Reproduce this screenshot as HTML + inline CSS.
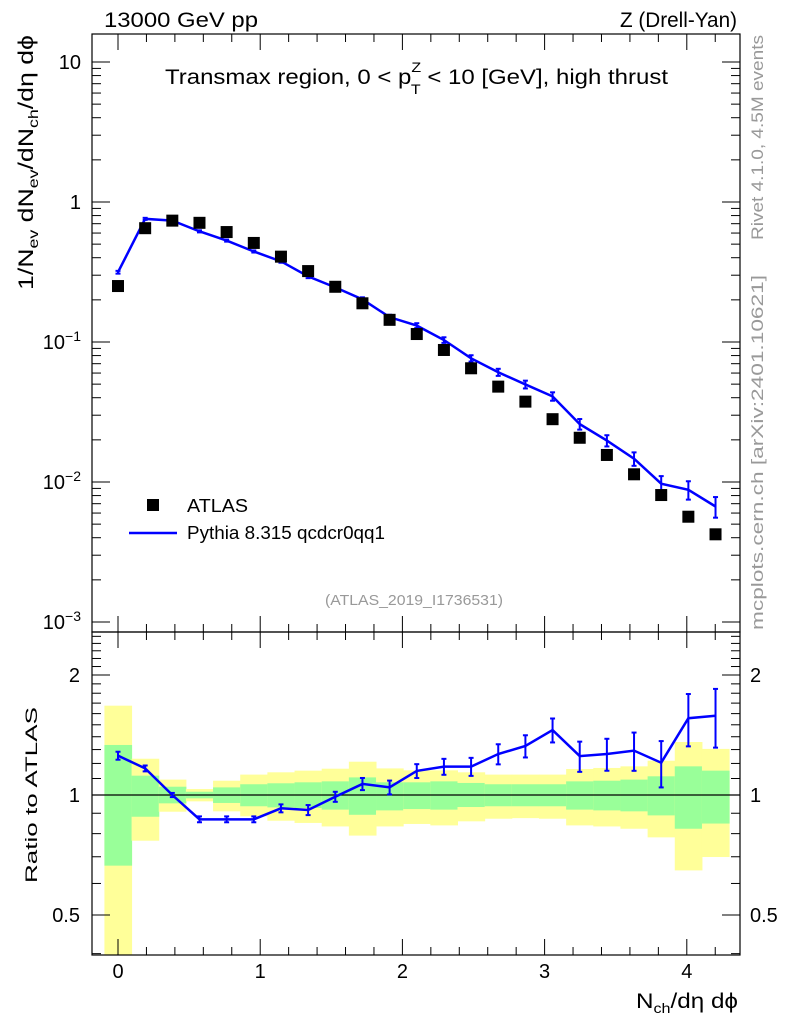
<!DOCTYPE html>
<html><head><meta charset="utf-8"><style>
body{margin:0;background:#fff}
svg{display:block;font-family:"Liberation Sans","DejaVu Sans",sans-serif}
</style></head><body>
<svg id="c" width="786" height="1024" xmlns="http://www.w3.org/2000/svg"></svg>
<script>
const xCenters=[0,0.191,0.382,0.573,0.764,0.955,1.146,1.337,1.528,1.719,1.91,2.101,2.292,2.483,2.674,2.865,3.056,3.247,3.438,3.629,3.82,4.011,4.202];
const binWidth=0.191;
const atlasVals=[0.251,0.65,0.736,0.71,0.61,0.51,0.407,0.321,0.248,0.189,0.144,0.114,0.0877,0.0649,0.048,0.0375,0.0281,0.0207,0.0156,0.01135,0.00807,0.00565,0.00423];
const mcRatio=[1.255,1.166,1.0,0.869,0.869,0.869,0.926,0.917,0.99,1.066,1.045,1.149,1.178,1.178,1.267,1.327,1.455,1.252,1.267,1.292,1.205,1.558,1.58];
const mcRelErr=[0.023,0.017,0.012,0.017,0.017,0.017,0.023,0.029,0.029,0.035,0.04,0.04,0.046,0.052,0.058,0.064,0.069,0.087,0.092,0.11,0.133,0.15,0.168];
const yellowHi=[1.675,1.233,1.093,1.035,1.086,1.125,1.14,1.151,1.164,1.212,1.166,1.153,1.153,1.14,1.125,1.125,1.125,1.162,1.169,1.18,1.219,1.358,1.305];
const greenHi=[1.335,1.118,1.049,1.019,1.045,1.064,1.07,1.076,1.082,1.107,1.076,1.076,1.082,1.072,1.064,1.064,1.064,1.082,1.086,1.093,1.114,1.18,1.151];
const greenLo=[0.665,0.882,0.953,0.981,0.955,0.937,0.931,0.928,0.919,0.892,0.915,0.922,0.919,0.933,0.937,0.937,0.937,0.919,0.915,0.91,0.889,0.823,0.848];
const yellowLo=[0.3,0.768,0.908,0.964,0.91,0.884,0.862,0.851,0.834,0.791,0.834,0.846,0.839,0.859,0.872,0.875,0.872,0.839,0.834,0.823,0.783,0.647,0.699];
const xTicks=[0,1,2,3,4];
const mainTicks=[10,1,0.1,0.01,0.001];
const ratioTicks=[0.5,1,2];

const NS="http://www.w3.org/2000/svg";
const svg=document.getElementById('c');
const L=92,R=740,T=34,MB=632,RB=955;
const X=v=>118+v*142.2;
const Ym=v=>202-Math.log10(v)*140;
const Yr=v=>795-Math.log10(v)*398.7;
function el(tag,attrs,parent){const e=document.createElementNS(NS,tag);for(const k in attrs)e.setAttribute(k,attrs[k]);(parent||svg).appendChild(e);return e;}
function txt(s,attrs){const e=el('text',attrs);e.textContent=s;return e;}

const defs=el('defs',{});
const cp=el('clipPath',{id:'rc'},defs);el('rect',{x:L,y:MB,width:R-L,height:RB-MB},cp);
const cpm=el('clipPath',{id:'mc'},defs);el('rect',{x:L,y:T,width:R-L,height:MB-T},cpm);

const bands=el('g',{'clip-path':'url(#rc)'});


xCenters.forEach((c,i)=>{
  const x0=X(c-binWidth/2),w=X(c+binWidth/2)-x0;
  const y=el('rect',{x:x0,y:Yr(yellowHi[i]),width:w+0.5,height:Yr(yellowLo[i])-Yr(yellowHi[i]),fill:'#ffff99'},bands);
  
  
  const g=el('rect',{x:x0,y:Yr(greenHi[i]),width:w+0.5,height:Yr(greenLo[i])-Yr(greenHi[i]),fill:'#99ff99'},bands);
  
  
});
el('line',{x1:L,x2:R,y1:Yr(1),y2:Yr(1),stroke:'#000','stroke-width':1.2});

el('rect',{x:L,y:T,width:R-L,height:MB-T,fill:'none',stroke:'#000','stroke-width':1.2});
el('rect',{x:L,y:MB,width:R-L,height:RB-MB,fill:'none',stroke:'#000','stroke-width':1.2});

const tk=el('g',{stroke:'#000','stroke-width':1});
for(let v=-0.2;v<=4.37;v+=0.2){
  const vv=Math.round(v*10)/10;const major=Math.abs(vv-Math.round(vv))<1e-6;
  const len=major?16:8;const x=X(vv);if(x<L||x>R)continue;
  [[T,1],[MB,-1],[MB,1],[RB,-1]].forEach(([y,d])=>el('line',{x1:x,x2:x,y1:y,y2:y+d*len},tk));
}
xTicks.forEach(v=>{const t=txt(String(v),{x:X(v),y:978,'font-size':20,'text-anchor':'middle'});

});

for(let d=-3;d<=1;d++){for(let m=1;m<=9;m++){const v=m*Math.pow(10,d);const y=Ym(v);if(y<T||y>MB)continue;const len=m==1?18:9;
el('line',{x1:L,x2:L+len,y1:y,y2:y},tk);el('line',{x1:R,x2:R-len,y1:y,y2:y},tk);}}
const mainLabels=['10','1','10<tspan dy="-8" font-size="14">−1</tspan>','10<tspan dy="-8" font-size="14">−2</tspan>','10<tspan dy="-8" font-size="14">−3</tspan>'];
mainTicks.forEach((v,i)=>{const t=el('text',{x:81,y:Ym(v)+7,'font-size':20,'text-anchor':'end'});t.innerHTML=mainLabels[i];

});
for(let k=3;k<=25;k++){const v=k/10;const y=Yr(v);if(y<MB||y>RB)continue;const major=(v===0.5||v===1||v===2);const len=major?18:9;
el('line',{x1:L,x2:L+len,y1:y,y2:y},tk);el('line',{x1:R,x2:R-len,y1:y,y2:y},tk);}
ratioTicks.forEach(v=>{const s=String(v);
const a=txt(s,{x:80,y:Yr(v)+7,'font-size':20,'text-anchor':'end'});
const b=txt(s,{x:750,y:Yr(v)+7,'font-size':20});});

const mg=el('g',{'clip-path':'url(#mc)'});
const mcVals=atlasVals.map((a,i)=>a*mcRatio[i]);
const mcLine=el('polyline',{points:xCenters.map((c,i)=>X(c)+','+Ym(mcVals[i])).join(' '),fill:'none',stroke:'#0000ff','stroke-width':2.5},mg);


xCenters.forEach((c,i)=>{const v=mcVals[i],e=v*mcRelErr[i];const x=X(c);
const y1=Ym(v+e),y2=Ym(v-e);
el('line',{x1:x,x2:x,y1:y1,y2:y2,stroke:'#0000ff','stroke-width':2},mg);
el('line',{x1:x-2.5,x2:x+2.5,y1:y1,y2:y1,stroke:'#0000ff','stroke-width':2},mg);
el('line',{x1:x-2.5,x2:x+2.5,y1:y2,y2:y2,stroke:'#0000ff','stroke-width':2},mg);});
xCenters.forEach((c,i)=>{const r=el('rect',{x:X(c)-6,y:Ym(atlasVals[i])-6,width:12,height:12,fill:'#000'});

});

const rg=el('g',{'clip-path':'url(#rc)'});
const rl=el('polyline',{points:xCenters.map((c,i)=>X(c)+','+Yr(mcRatio[i])).join(' '),fill:'none',stroke:'#0000ff','stroke-width':2.5},rg);


xCenters.forEach((c,i)=>{const v=mcRatio[i],e=v*mcRelErr[i];const x=X(c);const y1=Yr(v+e),y2=Yr(v-e);
el('line',{x1:x,x2:x,y1:y1,y2:y2,stroke:'#0000ff','stroke-width':2},rg);
el('line',{x1:x-2.5,x2:x+2.5,y1:y1,y2:y1,stroke:'#0000ff','stroke-width':2},rg);
el('line',{x1:x-2.5,x2:x+2.5,y1:y2,y2:y2,stroke:'#0000ff','stroke-width':2},rg);});
</script>
<script>
(function(){
const svg=document.getElementById('c');
svg.insertAdjacentHTML('beforeend',`
<text x="104" y="27" font-size="21" textLength="154" lengthAdjust="spacingAndGlyphs">13000 GeV pp</text>
<text x="620" y="27" font-size="21" textLength="117" lengthAdjust="spacingAndGlyphs">Z (Drell-Yan)</text>
<text x="165" y="84" font-size="21" textLength="503" lengthAdjust="spacingAndGlyphs">Transmax region, 0 &lt; p<tspan dy="-12" font-size="14">Z</tspan><tspan dx="-9" dy="22" font-size="14">T</tspan><tspan dy="-10"> &lt; 10 [GeV], high thrust</tspan></text>
<text x="325" y="605" font-size="15" fill="#999" textLength="178" lengthAdjust="spacingAndGlyphs">(ATLAS_2019_I1736531)</text>
<rect x="147" y="499" width="12" height="12" fill="#000"/>
<text x="187" y="512" font-size="18" textLength="61" lengthAdjust="spacingAndGlyphs">ATLAS</text>
<line x1="129" x2="177" y1="533" y2="533" stroke="#0000ff" stroke-width="2.5"/>
<text x="187" y="539" font-size="18" textLength="198" lengthAdjust="spacingAndGlyphs">Pythia 8.315 qcdcr0qq1</text>
<text transform="translate(33,290) rotate(-90)" font-size="21" textLength="255" lengthAdjust="spacingAndGlyphs">1/N<tspan font-size="14" dy="5">ev</tspan><tspan dy="-5"> dN</tspan><tspan font-size="14" dy="5">ev</tspan><tspan dy="-5">/dN</tspan><tspan font-size="14" dy="5">ch</tspan><tspan dy="-5">/dη dϕ</tspan></text>
<text transform="translate(37,883) rotate(-90)" font-size="17" textLength="176" lengthAdjust="spacingAndGlyphs">Ratio to ATLAS</text>
<text x="636" y="1008" font-size="21" textLength="102" lengthAdjust="spacingAndGlyphs">N<tspan font-size="14" dy="5">ch</tspan><tspan dy="-5">/dη dϕ</tspan></text>
<text transform="translate(763,240) rotate(-90)" font-size="17" fill="#999" textLength="205" lengthAdjust="spacingAndGlyphs">Rivet 4.1.0,  4.5M events</text>
<text transform="translate(763,630) rotate(-90)" font-size="17" fill="#999" textLength="355" lengthAdjust="spacingAndGlyphs">mcplots.cern.ch [arXiv:2401.10621]</text>
`);
})();
</script>
</body></html>
